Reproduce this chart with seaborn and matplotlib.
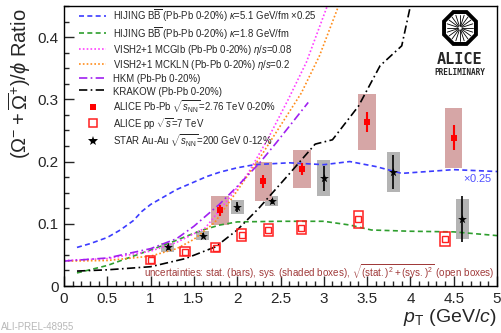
import numpy as np
import pandas as pd
import seaborn as sns
import matplotlib.pyplot as plt
from matplotlib.lines import Line2D
from matplotlib.patches import RegularPolygon
from matplotlib.ticker import MultipleLocator, FuncFormatter

# --- model curves ---
hij51_x = [0.15, 0.3, 0.5, 0.65, 0.8, 0.9, 1.0, 1.1, 1.3, 1.5, 1.65, 1.8, 2.0, 2.2, 2.6, 3.0, 3.3, 3.6, 3.9, 4.2, 4.5, 5.0]
hij51_y = [0.062, 0.068, 0.078, 0.09, 0.105, 0.12, 0.131, 0.139, 0.155, 0.167, 0.176, 0.183, 0.19, 0.195, 0.198, 0.195, 0.2, 0.192, 0.181, 0.184, 0.187, 0.184]
hij18_x = [0.15, 0.5, 0.9, 1.2, 1.45, 1.6, 1.8, 2.0, 2.5, 3.0, 3.3, 3.55, 4.0, 4.5, 5.0]
hij18_y = [0.021, 0.033, 0.053, 0.068, 0.082, 0.09, 0.098, 0.103, 0.104, 0.104, 0.098, 0.09, 0.088, 0.087, 0.081]
mcglb_x = [0.0, 0.5, 1.0, 1.3, 1.63, 1.9, 2.13, 2.36, 2.59, 2.8, 3.04, 3.1]
mcglb_y = [0.041, 0.044, 0.056, 0.07, 0.093, 0.14, 0.182, 0.238, 0.3, 0.36, 0.45, 0.47]
mckln_x = [0.0, 0.5, 1.0, 1.3, 1.5, 1.74, 2.01, 2.28, 2.51, 2.74, 2.95, 3.17, 3.25]
mckln_y = [0.04, 0.041, 0.048, 0.06, 0.075, 0.102, 0.155, 0.21, 0.26, 0.31, 0.37, 0.45, 0.48]
hkm_x = [0.0, 0.5, 1.0, 1.3, 1.5, 1.8, 2.0, 2.26, 2.45, 2.82]
hkm_y = [0.04, 0.045, 0.06, 0.076, 0.096, 0.132, 0.16, 0.198, 0.23, 0.295]
krak_x = [0.15, 0.5, 1.0, 1.4, 1.75, 2.0, 2.25, 2.6, 2.9, 3.1, 3.4, 3.65, 3.9, 4.0, 4.05]
krak_y = [0.024, 0.026, 0.031, 0.044, 0.063, 0.09, 0.125, 0.18, 0.228, 0.235, 0.289, 0.354, 0.386, 0.45, 0.48]

# --- data points ---
pbpb_x = [1.8, 2.3, 2.75, 3.5, 4.5]
pbpb_y = [0.1215, 0.168, 0.188, 0.263, 0.238]
pbpb_stat = [0.009, 0.011, 0.01, 0.016, 0.02]
pbpb_sys = [0.023, 0.032, 0.03, 0.045, 0.048]

pp_x = [1.0, 1.4, 1.75, 2.05, 2.36, 2.74, 3.4, 4.4]
pp_y = [0.042, 0.0553, 0.0618, 0.0823, 0.09, 0.094, 0.107, 0.0753]
pp_tot = [0.006, 0.007, 0.007, 0.01, 0.01, 0.01, 0.014, 0.011]

star_x = [1.2, 1.6, 2.0, 2.4, 3.0, 3.8, 4.6]
star_y = [0.0624, 0.081, 0.127, 0.136, 0.173, 0.183, 0.1075]
star_stat = [0.004, 0.004, 0.008, 0.004, 0.02, 0.027, 0.037]
star_sys = [0.007, 0.007, 0.012, 0.008, 0.029, 0.0325, 0.032]

sns.set_style('ticks')
plt.rcParams['font.family'] = ['Liberation Sans', 'DejaVu Sans']
plt.rcParams['mathtext.fontset'] = 'custom'
plt.rcParams['mathtext.rm'] = 'Liberation Sans'
plt.rcParams['mathtext.it'] = 'Liberation Sans:italic'
plt.rcParams['mathtext.bf'] = 'Liberation Sans:bold'

fig = plt.figure(figsize=(5.01, 3.33), dpi=100)
ax = fig.add_axes([64 / 501, 47 / 333, 433 / 501, 280 / 333])

# shaded / open boxes
ax.bar(star_x, [2 * s for s in star_sys], bottom=[y - s for y, s in zip(star_y, star_sys)],
       width=0.15, color='#b4b4b4', linewidth=0, zorder=1)
ax.bar(pbpb_x, [2 * s for s in pbpb_sys], bottom=[y - s for y, s in zip(pbpb_y, pbpb_sys)],
       width=0.2, color='#d6a6a6', linewidth=0, zorder=1)
ax.bar(pp_x, [2 * s for s in pp_tot], bottom=[y - s for y, s in zip(pp_y, pp_tot)],
       width=0.11, fill=False, edgecolor='#ff2020', linewidth=1.1, zorder=3)

lw = 1.2
curves = [
    (hij51_x, hij51_y, '#3c3cff', (0, (3, 2))),
    (hij18_x, hij18_y, '#2e9e2e', (0, (3, 2))),
    (mcglb_x, mcglb_y, '#ff40ff', (0, (1, 1.3))),
    (mckln_x, mckln_y, '#ff8c1a', (0, (1, 1.3))),
    (hkm_x, hkm_y, '#a020f0', (0, (5, 2, 1, 2))),
    (krak_x, krak_y, 'black', (0, (5, 2, 1, 2))),
]
for cx, cy, col, ls in curves:
    sns.lineplot(x=cx, y=cy, ax=ax, color=col, linestyle=ls, linewidth=lw, zorder=2)

# error bars and markers
ax.errorbar(star_x, star_y, yerr=star_stat, fmt='none', ecolor='black', elinewidth=1.2, zorder=4)
ax.errorbar(pbpb_x, pbpb_y, yerr=pbpb_stat, fmt='none', ecolor='red', elinewidth=1.5, zorder=4)
sns.scatterplot(x=pbpb_x, y=pbpb_y, ax=ax, marker='s', color='red', s=16, linewidth=0, zorder=5)
sns.scatterplot(x=star_x, y=star_y, ax=ax, marker='*', color='black', s=45, linewidth=0, zorder=5)
ax.plot(pp_x, pp_y, ls='none', marker='s', ms=4.5, mfc='none', mec='#ff2020', mew=1.0, zorder=5)

ax.set_xlim(0, 5)
ax.set_ylim(0, 0.45)
ax.xaxis.set_major_locator(MultipleLocator(0.5))
ax.xaxis.set_minor_locator(MultipleLocator(0.1))
ax.yaxis.set_major_locator(MultipleLocator(0.1))
ax.yaxis.set_minor_locator(MultipleLocator(0.025))
fmt = FuncFormatter(lambda v, p: '%g' % round(v, 3))
ax.xaxis.set_major_formatter(fmt)
ax.yaxis.set_major_formatter(fmt)
ax.tick_params(which='both', direction='in', top=False, right=False, labelsize=11, pad=4)
ax.tick_params(which='major', length=7, width=1)
ax.tick_params(which='minor', length=3.5, width=1)
for sp in ax.spines.values():
    sp.set_visible(True)
    sp.set_linewidth(1)
    sp.set_color('black')

ax.set_xlabel(r'$p_{\mathrm{T}}$ (GeV/$c$)', fontsize=14, loc='right', labelpad=1)
ax.set_ylabel(r'$(\Omega^{-}+\overline{\Omega}^{+})/\phi$ Ratio', fontsize=14.5, loc='top', labelpad=2)
ax.yaxis.set_label_coords(-0.072, 0.99)

ax.text(4.95, 0.174, r'$\times$0.25', color='#5050ff', fontsize=8, ha='right', va='center')
ax.text(4.97, 0.023, r'uncertainties: stat. (bars), sys. (shaded boxes), $\sqrt{(\mathrm{stat.})^{2}+(\mathrm{sys.})^{2}}$ (open boxes)',
        color='#a03a3a', fontsize=7.1, ha='right', va='center')

labels = [
    r'HIJING B$\overline{\mathrm{B}}$ (Pb-Pb 0-20%) $\kappa$=5.1 GeV/fm $\times$0.25',
    r'HIJING B$\overline{\mathrm{B}}$ (Pb-Pb 0-20%) $\kappa$=1.8 GeV/fm',
    r'VISH2+1 MCGlb (Pb-Pb 0-20%) $\eta/s$=0.08',
    r'VISH2+1 MCKLN (Pb-Pb 0-20%) $\eta/s$=0.2',
    'HKM (Pb-Pb 0-20%)',
    'KRAKOW (Pb-Pb 0-20%)',
    r'ALICE Pb-Pb $\sqrt{s_{\mathrm{NN}}}$=2.76 TeV 0-20%',
    r'ALICE pp $\sqrt{s}$=7 TeV',
    r'STAR Au-Au $\sqrt{s_{\mathrm{NN}}}$=200 GeV 0-12%',
]
handles = [Line2D([], [], color=c, ls=ls, lw=lw) for _, _, c, ls in curves]
handles += [
    Line2D([], [], ls='none', marker='s', ms=5, color='red', mew=0),
    Line2D([], [], ls='none', marker='s', ms=6, mfc='none', mec='#ff2020', mew=1.1),
    Line2D([], [], ls='none', marker='*', ms=7, color='black', mew=0),
]
ax.legend(handles, labels, loc='upper left', bbox_to_anchor=(0.035, 0.993), frameon=False,
          fontsize=6.9, handlelength=2.8, handletextpad=0.7, handleheight=1.45,
          labelspacing=0.12, borderpad=0, borderaxespad=0)

# ALICE logo
lax = fig.add_axes([441 / 501, (333 - 47) / 333, 38 / 501, 38 / 333])
lax.set_xlim(-1.1, 1.1)
lax.set_ylim(-1.1, 1.1)
lax.set_aspect('equal')
lax.axis('off')
lax.add_patch(RegularPolygon((0, 0), 8, radius=1.0, orientation=np.pi / 8,
                             fill=False, edgecolor='black', linewidth=2.8))
for a in np.linspace(0, 2 * np.pi, 20, endpoint=False):
    lax.plot([0.12 * np.cos(a), 0.78 * np.cos(a)], [0.12 * np.sin(a), 0.78 * np.sin(a)],
             color='black', lw=0.6)
fig.text(460 / 501, 1 - 60 / 333, 'ALICE', family='DejaVu Sans Mono', weight='bold',
         fontsize=11, ha='center', va='center')
fig.text(460 / 501, 1 - 72.5 / 333, 'PRELIMINARY', family='DejaVu Sans Mono', weight='bold',
         fontsize=5.6, ha='center', va='center')

fig.text(0.002, 11 / 333, 'ALI-PREL-48955', color='#b8b8b8', fontsize=7, ha='left', va='top')

fig.savefig('out.png', dpi=100)
